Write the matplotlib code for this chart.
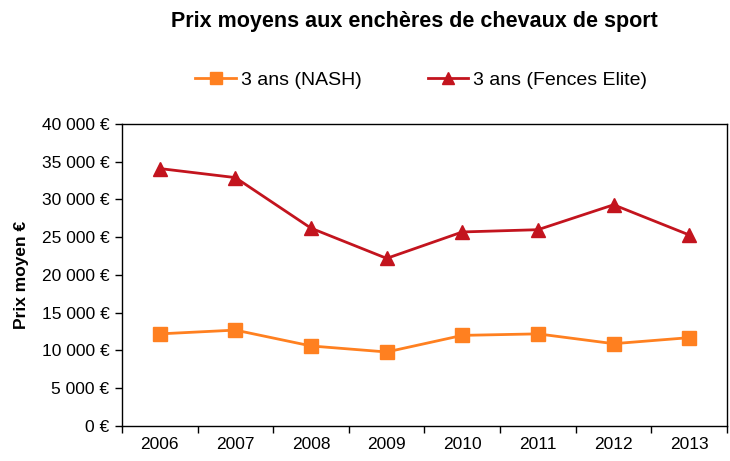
import numpy as np
import matplotlib.pyplot as plt
from matplotlib.ticker import FixedLocator, FuncFormatter

plt.rcParams['font.family'] = ['Liberation Sans', 'DejaVu Sans']

years = ['2006', '2007', '2008', '2009', '2010', '2011', '2012', '2013']
nash = [12200, 12700, 10600, 9800, 12000, 12200, 10900, 11700]
fences = [34100, 32900, 26200, 22200, 25700, 26000, 29300, 25300]

orange = '#FF8020'
red = '#C3141E'

fig = plt.figure(figsize=(7.3, 4.61), dpi=100)
ax = fig.add_axes([0.167, 0.076, 0.829, 0.655])

x = np.arange(len(years))
ax.plot(x, nash, color=orange, lw=2.0, marker='s', ms=9.5, mec=orange, mfc=orange,
        label='3 ans (NASH)')
ax.plot(x, fences, color=red, lw=2.0, marker='^', ms=10.5, mec=red, mfc=red,
        label='3 ans (Fences Elite)')

ax.set_xlim(-0.5, len(years) - 0.5)
ax.set_ylim(0, 40000)
ax.set_yticks(np.arange(0, 40001, 5000))
ax.yaxis.set_major_formatter(FuncFormatter(lambda v, p: f"{int(v):,} €".replace(',', ' ')))

# ticks at category boundaries, labels in the middle
ax.xaxis.set_major_locator(FixedLocator(np.arange(-0.5, len(years), 1.0)))
ax.xaxis.set_minor_locator(FixedLocator(x))
ax.set_xticklabels([])
ax.set_xticklabels(years, minor=True)
ax.tick_params(axis='x', which='major', direction='out', length=5, width=1)
ax.tick_params(axis='x', which='minor', length=0, pad=8, labelsize=12.5)
ax.tick_params(axis='y', direction='out', length=5, width=1, labelsize=12.5, pad=4)

for s in ax.spines.values():
    s.set_linewidth(1.0)
    s.set_color('black')

ax.set_ylabel('Prix moyen €', fontsize=12.5, fontweight='bold', labelpad=9)

fig.text(0.567, 0.953, 'Prix moyens aux enchères de chevaux de sport', ha='center', va='center',
         fontsize=15.5, fontweight='bold')

fig.legend(loc='center', bbox_to_anchor=(0.577, 0.826), ncol=2, frameon=False, fontsize=14,
           handlelength=2.1, handletextpad=0.25, columnspacing=3.4, markerscale=0.85)

fig.savefig('out.png', dpi=100)
